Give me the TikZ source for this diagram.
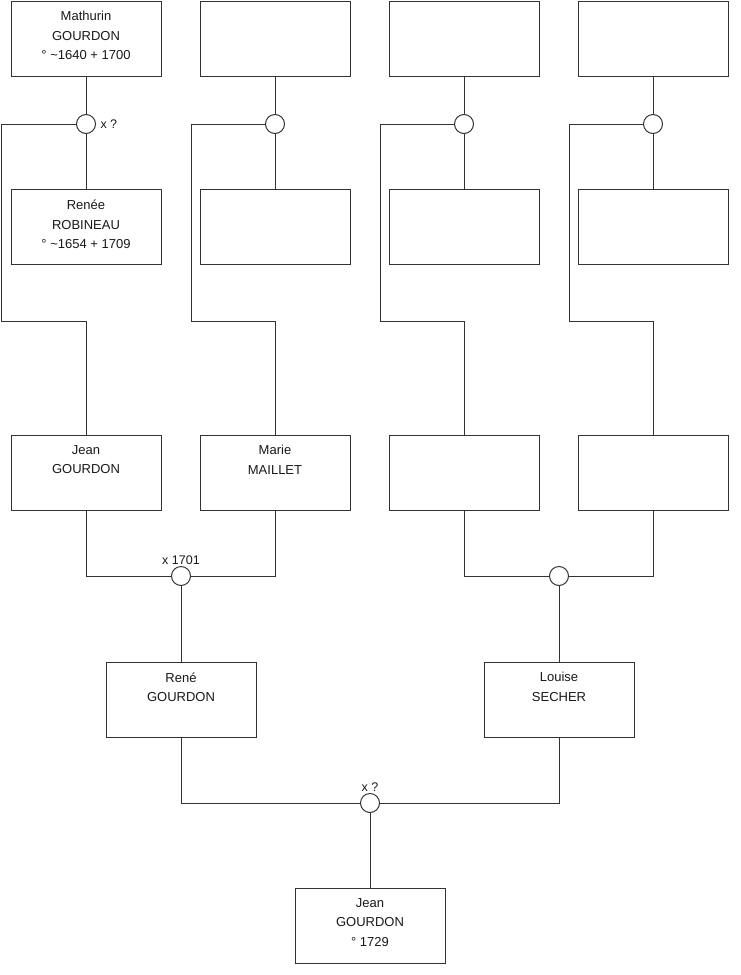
\documentclass[tikz,border=0pt]{standalone}
\usepackage{fontspec}
\setmainfont{Liberation Sans}
\begin{document}
\begin{tikzpicture}[x=1pt,y=-1pt,
  line width=1pt,
  conn/.style={draw=black!80},
  person/.style={draw=black!80, fill=white, rectangle, minimum width=150pt, minimum height=75pt, inner sep=0pt},
  ptxt/.style={anchor=north, inner sep=0pt, yshift=-10.5pt, align=center, font=\fontsize{13}{19.5}\selectfont, text=black!90},
  union/.style={draw=black!80, fill=white, circle, minimum size=19pt, inner sep=0pt},
  ulabel/.style={font=\fontsize{12.5}{14}\selectfont, text=black!90, inner sep=1pt}]
\useasboundingbox (0,0) rectangle (740,975);

% Row 1
\node[person, label={[ptxt]north:{Mathurin\\GOURDON\\° \textasciitilde1640 + 1700}}] (f1) at (86,38.5) {};
\node[person] (f2) at (275,38.5) {};
\node[person] (f3) at (464,38.5) {};
\node[person] (f4) at (653,38.5) {};
% unions row 1
\node[union] (u1) at (86,124) {};
\node[union] (u2) at (275,124) {};
\node[union] (u3) at (464,124) {};
\node[union] (u4) at (653,124) {};
\node[ulabel, anchor=west, xshift=3pt] (l1) at (u1.east) {x ?};
% Row 2
\node[person, label={[ptxt]north:{Renée\\ROBINEAU\\° \textasciitilde1654 + 1709}}] (m1) at (86,227) {};
\node[person] (m2) at (275,227) {};
\node[person] (m3) at (464,227) {};
\node[person] (m4) at (653,227) {};
% Row 3
\node[person, label={[ptxt]north:{Jean\\GOURDON}}] (g1) at (86,472.5) {};
\node[person, label={[ptxt]north:{Marie\\MAILLET}}] (g2) at (275,472.5) {};
\node[person] (g3) at (464,472.5) {};
\node[person] (g4) at (653,472.5) {};
% unions row 3
\node[union] (v1) at (181,576) {};
\node[union] (v2) at (559,576) {};
\node[ulabel, anchor=south] (l2) at (v1.north) {x 1701};
% Row 4
\node[person, label={[ptxt]north:{René\\GOURDON}}] (h1) at (181,699.5) {};
\node[person, label={[ptxt]north:{Louise\\SECHER}}] (h2) at (559,699.5) {};
% bottom union
\node[union] (w) at (370,803) {};
\node[ulabel, anchor=south] (l3) at (w.north) {x ?};
% Bottom
\node[person, label={[ptxt]north:{Jean\\GOURDON\\° 1729}}] (b) at (370,925.5) {};

% bend coordinates
\coordinate (a1) at (1,321);
\coordinate (a2) at (191,321);
\coordinate (a3) at (380,321);
\coordinate (a4) at (569,321);

% connectors row1-2
\foreach \i in {1,2,3,4}{
  \draw[conn] (f\i.south) -- (u\i.north);
  \draw[conn] (u\i.south) -- (m\i.north);
  \draw[conn] (u\i.west) -| (a\i) -| (g\i.north);
}
% row3 to unions
\draw[conn] (g1.south) |- (v1.west);
\draw[conn] (g2.south) |- (v1.east);
\draw[conn] (g3.south) |- (v2.west);
\draw[conn] (g4.south) |- (v2.east);
\draw[conn] (v1.south) -- (h1.north);
\draw[conn] (v2.south) -- (h2.north);
% row4 to bottom
\draw[conn] (h1.south) |- (w.west);
\draw[conn] (h2.south) |- (w.east);
\draw[conn] (w.south) -- (b.north);
\end{tikzpicture}
\end{document}
